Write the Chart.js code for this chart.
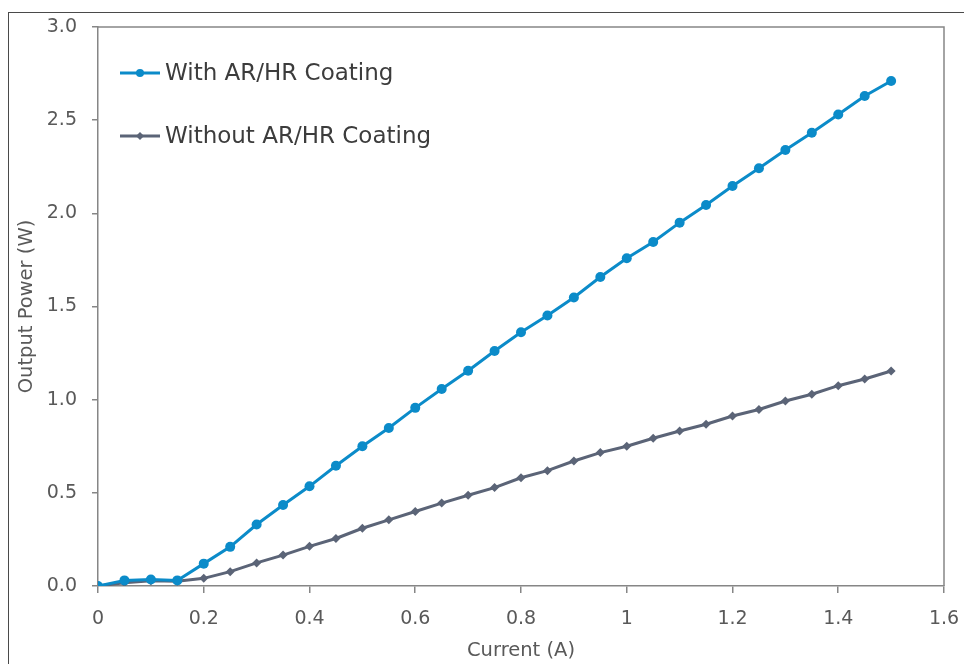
<!DOCTYPE html>
<html lang="en">
<head>
    <meta charset="UTF-8">
    <title>Output Power vs Current</title>
    <style>
        html, body {
            margin: 0;
            padding: 0;
            background: #fff;
        }
        #wrap {
            position: relative;
            width: 964px;
            height: 664px;
            overflow: hidden;
        }
        #frame {
            position: absolute;
            left: 8px;
            top: 12px;
            width: 1000px;
            height: 700px;
            border-left: 1.5px solid #4a4a4a;
            border-top: 1.5px solid #4a4a4a;
            pointer-events: none;
        }
        canvas {
            position: absolute;
            left: 0;
            top: 0;
        }
    </style>
</head>
<body>
    <div id="wrap">
        <canvas id="grafico" width="964" height="664"></canvas>
        <div id="frame"></div>
    </div>

    <script src="https://cdn.jsdelivr.net/npm/chart.js"></script>

<script>
  // current sweep (A) and measured output power (W)
  const corrente = [0, 0.05, 0.1, 0.15, 0.2, 0.25, 0.3, 0.35, 0.4, 0.45, 0.5, 0.55, 0.6, 0.65, 0.7, 0.75,
                    0.8, 0.85, 0.9, 0.95, 1.0, 1.05, 1.1, 1.15, 1.2, 1.25, 1.3, 1.35, 1.4, 1.45, 1.5];

  const comCoating = [0.00, 0.03, 0.035, 0.03, 0.12, 0.21, 0.33, 0.435, 0.535, 0.645, 0.75, 0.848, 0.956,
                      1.057, 1.155, 1.261, 1.362, 1.452, 1.548, 1.658, 1.759, 1.846, 1.95, 2.045, 2.147,
                      2.242, 2.34, 2.432, 2.53, 2.63, 2.71];

  const semCoating = [0.00, 0.018, 0.028, 0.026, 0.041, 0.077, 0.124, 0.166, 0.213, 0.255, 0.31, 0.355,
                      0.40, 0.445, 0.487, 0.528, 0.581, 0.619, 0.671, 0.716, 0.75, 0.793, 0.832, 0.868,
                      0.912, 0.947, 0.993, 1.029, 1.075, 1.111, 1.154];

  const ticksX = [0, 0.2, 0.4, 0.6, 0.8, 1, 1.2, 1.4, 1.6];
  const ticksY = [0, 0.5, 1.0, 1.5, 2.0, 2.5, 3.0];
  const labelsX = ['0', '0.2', '0.4', '0.6', '0.8', '1', '1.2', '1.4', '1.6'];
  const labelsY = ['0.0', '0.5', '1.0', '1.5', '2.0', '2.5', '3.0'];

  const series = ['With AR/HR Coating', 'Without AR/HR Coating'];

  const azul = '#0b8bc9';
  const cinza = '#5b6477';
  const eixo = '#868686';
  const texto = '#595959';
  const fonte = '"DejaVu Sans", sans-serif';

  // frame around the plot area (top and right edges, axes draw the others)
  const caixa = {
    id: 'caixa',
    beforeDatasetsDraw(chart) {
      const {ctx, chartArea: a} = chart;
      ctx.save();
      ctx.strokeStyle = eixo;
      ctx.lineWidth = 1.5;
      ctx.beginPath();
      ctx.moveTo(a.left, a.top);
      ctx.lineTo(a.right, a.top);
      ctx.lineTo(a.right, a.bottom);
      ctx.stroke();
      ctx.restore();
    }
  };

  // legend drawn inside the plot, top-left
  const legenda = {
    id: 'legenda',
    afterDraw(chart) {
      const ctx = chart.ctx;
      const x0 = 120, x1 = 160;
      const ys = [73, 136];
      ctx.save();
      chart.data.datasets.forEach((ds, i) => {
        const y = ys[i];
        ctx.strokeStyle = ds.borderColor;
        ctx.lineWidth = 3;
        ctx.beginPath();
        ctx.moveTo(x0, y);
        ctx.lineTo(x1, y);
        ctx.stroke();
        const mx = (x0 + x1) / 2;
        ctx.fillStyle = ds.borderColor;
        ctx.beginPath();
        if (ds.pointStyle === 'circle') {
          ctx.arc(mx, y, 4, 0, Math.PI * 2);
        } else {
          ctx.moveTo(mx, y - 4);
          ctx.lineTo(mx + 4, y);
          ctx.lineTo(mx, y + 4);
          ctx.lineTo(mx - 4, y);
          ctx.closePath();
        }
        ctx.fill();
        ctx.fillStyle = '#3c3c3c';
        ctx.font = '23px ' + fonte;
        ctx.textBaseline = 'middle';
        ctx.fillText(ds.label, x1 + 5, y + 1);
      });
      ctx.restore();
    }
  };

  const ctx = document.getElementById('grafico');

  new Chart(ctx, {
    type: 'line',
    data: {
      datasets: [{
        label: series[0],
        data: corrente.map((x, i) => ({x: x, y: comCoating[i]})),
        borderColor: azul,
        backgroundColor: azul,
        borderWidth: 3,
        pointStyle: 'circle',
        pointRadius: 5,
        pointBorderWidth: 0,
        tension: 0
      }, {
        label: series[1],
        data: corrente.map((x, i) => ({x: x, y: semCoating[i]})),
        borderColor: cinza,
        backgroundColor: cinza,
        borderWidth: 3,
        pointStyle: 'rectRot',
        pointRadius: 4.5,
        pointBorderWidth: 0,
        tension: 0
      }]
    },
    options: {
      responsive: false,
      animation: false,
      layout: {
        padding: {left: 0, top: 27, right: 20, bottom: 0}
      },
      plugins: {
        legend: {display: false},
        tooltip: {enabled: false}
      },
      scales: {
        x: {
          type: 'linear',
          min: 0,
          max: 1.6,
          afterBuildTicks: s => { s.ticks = ticksX.map(v => ({value: v})); },
          afterFit: s => {
            s.height = 78;
            s.paddingLeft = 0;
            s.paddingRight = 0;
          },
          ticks: {
            callback: (v, i) => labelsX[i],
            color: texto,
            font: {family: fonte, size: 19},
            padding: 15,
            maxRotation: 0
          },
          grid: {
            drawOnChartArea: false,
            drawTicks: true,
            tickLength: 7,
            color: eixo,
            lineWidth: 1.5
          },
          border: {color: eixo, width: 1.5},
          title: {
            display: true,
            text: 'Current (A)',
            color: texto,
            font: {family: fonte, size: 19.5},
            padding: {top: 0, bottom: 1}
          }
        },
        y: {
          min: 0,
          max: 3,
          afterBuildTicks: s => { s.ticks = ticksY.map(v => ({value: v})); },
          afterFit: s => { s.width = 98; },
          ticks: {
            callback: (v, i) => labelsY[i],
            color: texto,
            font: {family: fonte, size: 19},
            padding: 15
          },
          grid: {
            drawOnChartArea: false,
            drawTicks: true,
            tickLength: 6,
            color: eixo,
            lineWidth: 1.5
          },
          border: {color: eixo, width: 1.5},
          title: {
            display: true,
            text: 'Output Power (W)',
            color: texto,
            font: {family: fonte, size: 19.5},
            padding: {top: 15, bottom: 0}
          }
        }
      }
    },
    plugins: [caixa, legenda]
  });
</script>
</body>
</html>
